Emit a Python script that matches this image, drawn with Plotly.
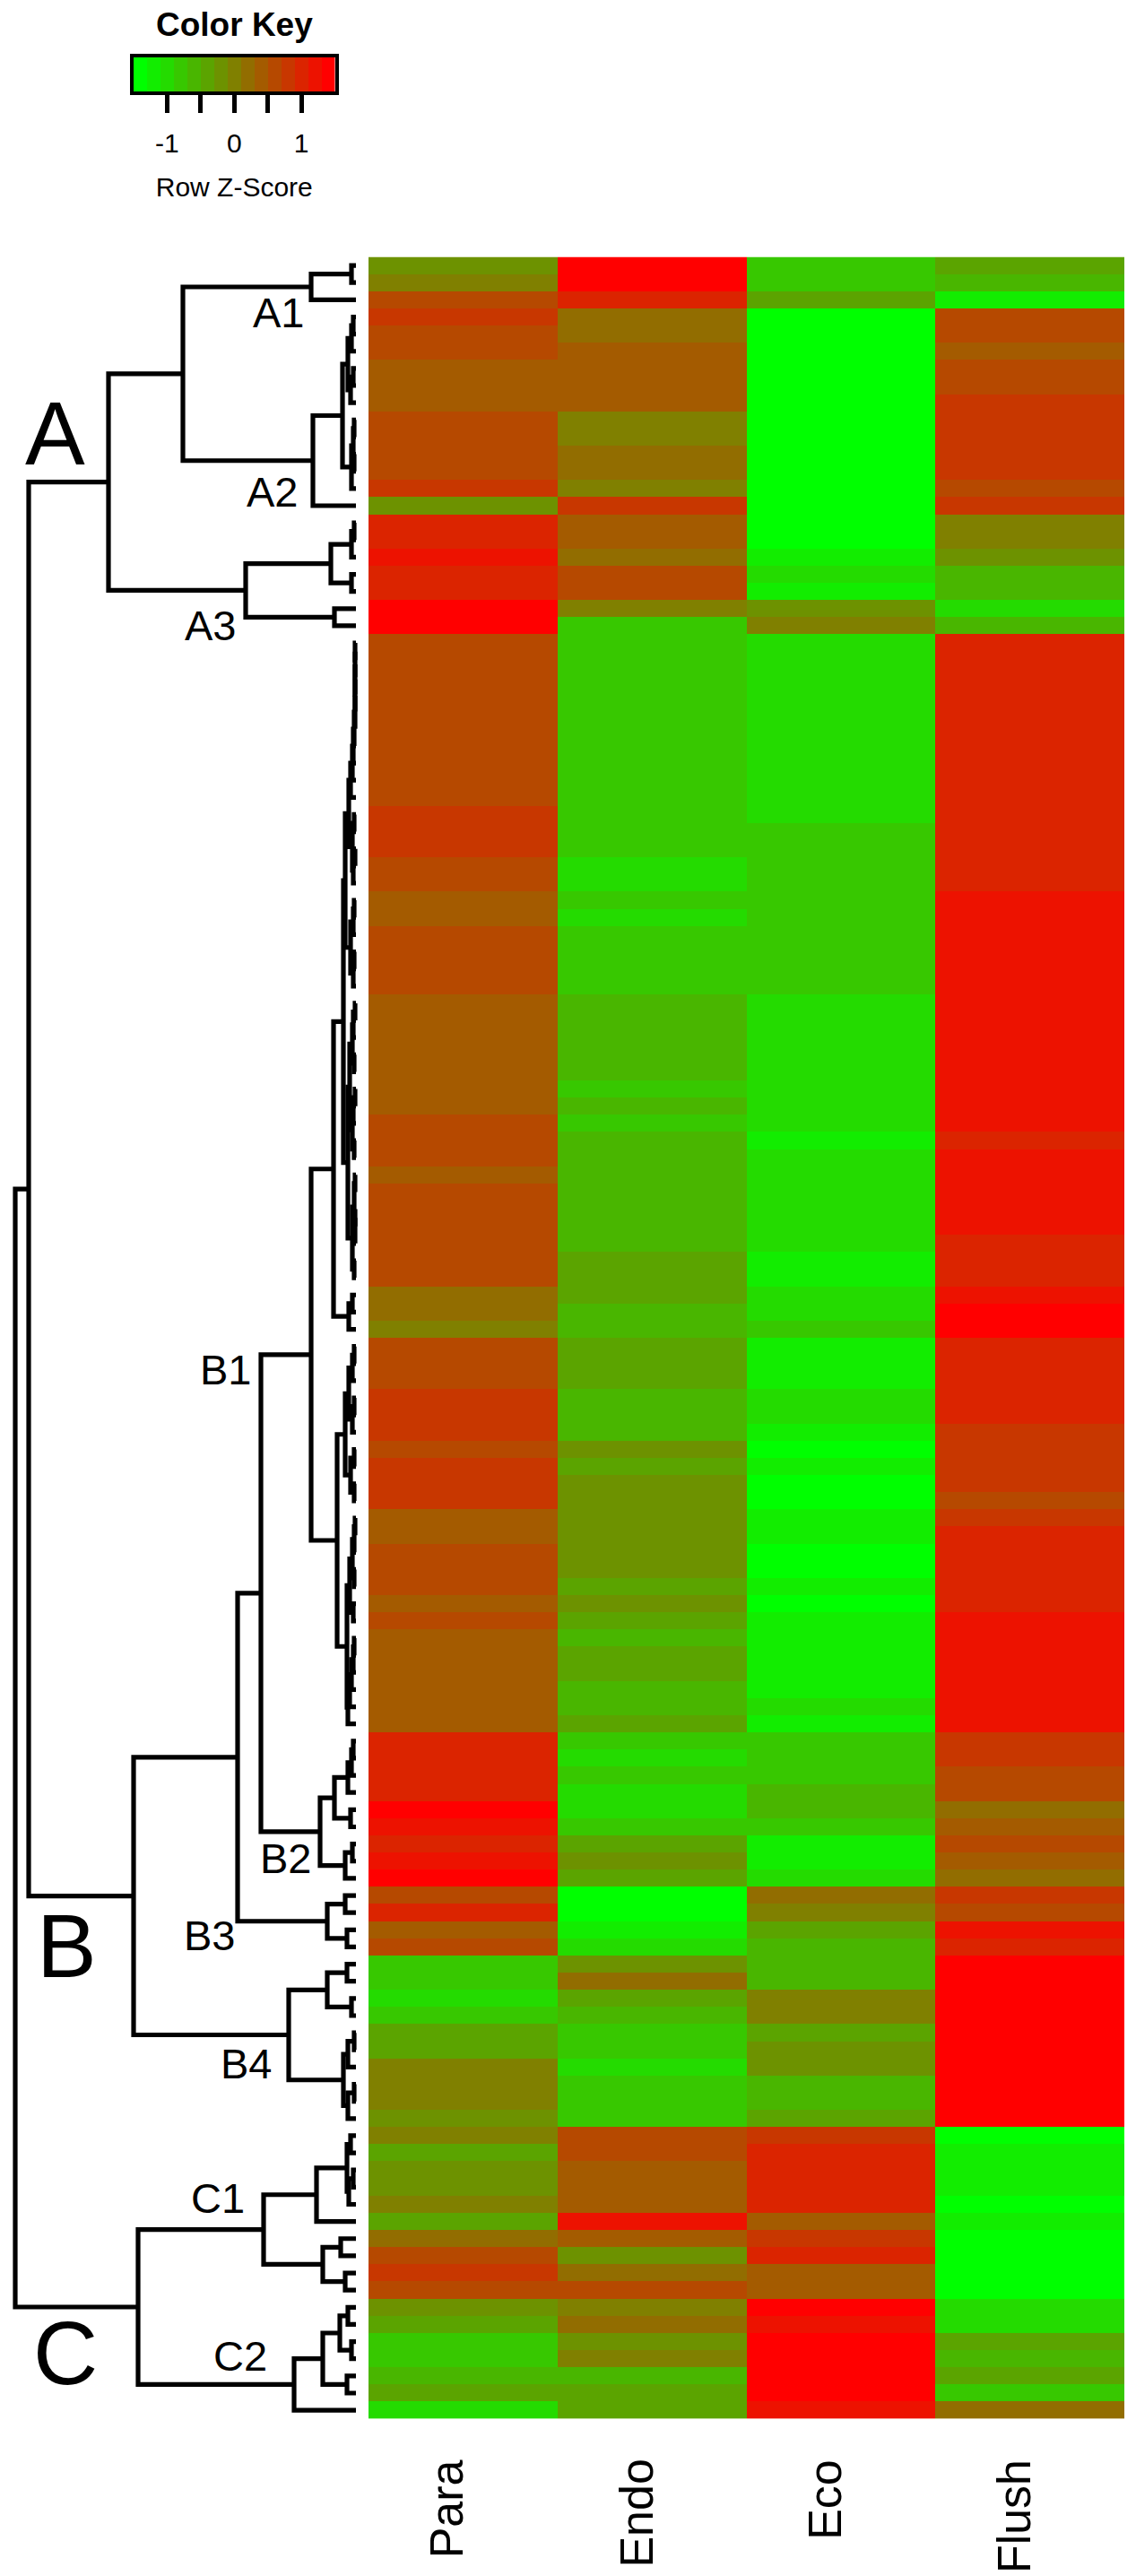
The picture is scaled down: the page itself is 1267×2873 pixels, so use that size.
import plotly.graph_objects as go

W, H = 1267, 2873
FONT = "Liberation Sans"

columns = ["Para", "Endo", "Eco", "Flush"]

# Row z-scores (row 0 is the top row)
para = [
    -0.2, 0.0, 0.6, 0.8, 0.6, 0.6, 0.4, 0.4, 0.4, 0.6,
    0.6, 0.6, 0.6, 0.8, -0.2, 1.0, 1.0, 1.2, 1.0, 1.0,
    1.4, 1.4, 0.6, 0.6, 0.6, 0.6, 0.6, 0.6, 0.6, 0.6,
    0.6, 0.6, 0.8, 0.8, 0.8, 0.6, 0.6, 0.4, 0.4, 0.6,
    0.6, 0.6, 0.6, 0.4, 0.4, 0.4, 0.4, 0.4, 0.4, 0.4,
    0.6, 0.6, 0.6, 0.4, 0.6, 0.6, 0.6, 0.6, 0.6, 0.6,
    0.2, 0.2, 0.0, 0.6, 0.6, 0.6, 0.8, 0.8, 0.8, 0.6,
    0.8, 0.8, 0.8, 0.4, 0.4, 0.6, 0.6, 0.6, 0.4, 0.6,
    0.4, 0.4, 0.4, 0.4, 0.4, 0.4, 1.0, 1.0, 1.0, 1.0,
    1.4, 1.2, 1.0, 1.2, 1.4, 0.6, 1.0, 0.4, 0.6, -0.8,
    -0.8, -1.0, -0.8, -0.4, -0.4, 0.0, 0.0, 0.0, -0.2, 0.0,
    -0.4, -0.2, -0.2, 0.0, -0.4, 0.2, 0.6, 0.8, 0.6, -0.2,
    -0.4, -0.8, -0.8, -0.6, -0.4, -1.0,
]
endo = [
    1.4, 1.4, 1.0, 0.2, 0.2, 0.4, 0.4, 0.4, 0.4, 0.0,
    0.0, 0.2, 0.2, 0.0, 0.8, 0.4, 0.4, 0.2, 0.6, 0.6,
    0.0, -0.8, -0.8, -0.8, -0.8, -0.8, -0.8, -0.8, -0.8, -0.8,
    -0.8, -0.8, -0.8, -0.8, -0.8, -1.0, -1.0, -0.8, -1.0, -0.8,
    -0.8, -0.8, -0.8, -0.6, -0.6, -0.6, -0.6, -0.6, -0.8, -0.6,
    -0.8, -0.6, -0.6, -0.6, -0.6, -0.6, -0.6, -0.6, -0.4, -0.4,
    -0.4, -0.6, -0.6, -0.4, -0.4, -0.4, -0.6, -0.6, -0.6, -0.2,
    -0.4, -0.2, -0.2, -0.2, -0.2, -0.2, -0.2, -0.4, -0.2, -0.4,
    -0.6, -0.4, -0.4, -0.6, -0.6, -0.4, -0.8, -1.0, -0.8, -1.0,
    -1.0, -0.8, -0.4, -0.2, -0.4, -1.4, -1.4, -1.2, -1.0, -0.2,
    0.2, -0.4, -0.6, -0.8, -0.8, -1.0, -0.8, -0.8, -0.8, 0.6,
    0.6, 0.4, 0.4, 0.4, 1.2, 0.4, -0.2, 0.2, 0.6, 0.0,
    0.2, -0.2, 0.0, -0.6, -0.4, -0.4,
]
eco = [
    -0.8, -0.8, -0.4, -1.4, -1.4, -1.4, -1.4, -1.4, -1.4, -1.4,
    -1.4, -1.4, -1.4, -1.4, -1.4, -1.4, -1.4, -1.2, -1.0, -1.2,
    -0.2, 0.0, -1.0, -1.0, -1.0, -1.0, -1.0, -1.0, -1.0, -1.0,
    -1.0, -1.0, -1.0, -0.8, -0.8, -0.8, -0.8, -0.8, -0.8, -0.8,
    -0.8, -0.8, -0.8, -1.0, -1.0, -1.0, -1.0, -1.0, -1.0, -1.0,
    -1.0, -1.2, -1.0, -1.0, -1.0, -1.0, -1.0, -1.0, -1.2, -1.2,
    -1.0, -1.0, -0.8, -1.2, -1.2, -1.2, -1.0, -1.0, -1.2, -1.4,
    -1.2, -1.4, -1.4, -1.2, -1.2, -1.4, -1.4, -1.2, -1.4, -1.2,
    -1.2, -1.2, -1.2, -1.2, -1.0, -1.2, -0.8, -0.8, -0.8, -0.6,
    -0.6, -0.8, -1.2, -1.2, -1.0, 0.2, 0.0, -0.4, -0.6, -0.6,
    -0.6, 0.0, 0.0, -0.4, -0.2, -0.2, -0.6, -0.6, -0.4, 0.8,
    1.0, 1.0, 1.0, 1.0, 0.4, 0.8, 1.0, 0.4, 0.4, 1.4,
    1.2, 1.4, 1.4, 1.4, 1.4, 1.2,
]
flush = [
    -0.4, -0.6, -1.2, 0.6, 0.6, 0.4, 0.6, 0.6, 0.8, 0.8,
    0.8, 0.8, 0.8, 0.6, 0.8, 0.0, 0.0, -0.2, -0.6, -0.6,
    -1.0, -0.6, 1.0, 1.0, 1.0, 1.0, 1.0, 1.0, 1.0, 1.0,
    1.0, 1.0, 1.0, 1.0, 1.0, 1.0, 1.0, 1.2, 1.2, 1.2,
    1.2, 1.2, 1.2, 1.2, 1.2, 1.2, 1.2, 1.2, 1.2, 1.2,
    1.2, 1.0, 1.2, 1.2, 1.2, 1.2, 1.2, 1.0, 1.0, 1.0,
    1.2, 1.4, 1.4, 1.0, 1.0, 1.0, 1.0, 1.0, 0.8, 0.8,
    0.8, 0.8, 0.6, 0.8, 1.0, 1.0, 1.0, 1.0, 1.0, 1.2,
    1.2, 1.2, 1.2, 1.2, 1.2, 1.2, 0.8, 0.8, 0.6, 0.6,
    0.2, 0.4, 0.6, 0.4, 0.2, 0.8, 0.6, 1.2, 1.0, 1.4,
    1.4, 1.4, 1.4, 1.4, 1.4, 1.4, 1.4, 1.4, 1.4, -1.4,
    -1.2, -1.2, -1.2, -1.4, -1.2, -1.4, -1.4, -1.4, -1.4, -1.0,
    -1.0, -0.4, -0.6, -0.4, -0.8, 0.2,
]
assert len(para) == len(endo) == len(eco) == len(flush) == 126

key_levels = [-1.4, -1.2, -1.0, -0.8, -0.6, -0.4, -0.2, 0.0,
              0.2, 0.4, 0.6, 0.8, 1.0, 1.2, 1.4]
key_ticks = [-1, -0.5, 0, 0.5, 1]
key_ticktext = ["-1", "", "0", "", "1"]

# Row dendrogram: (merge height, child, child); an int is a leaf row
A1 = (50, (5, 0, 1), 2)
A2 = (48, (15,
           (9, (5, (3, 3, 4), 5), (6, (3, 6, 7), 8)),
           (5, (3, (2, 9, 10), (2, 11, 12)), 13)),
      14)
A3 = (123, (28, (5, (2, 15, 16), 17), (5, 18, 19)), (24, 20, 21))
A = (276, (193, A1, A2), A3)

B1a = (8, (6, (4, (3, (2, (1, (1, (1, (1, (1, 22, 23), 24), 25), 26), 27), 28), 29), 30), 31),
       (4, (2, 32, 33), (3, (1, 34, 35), 36)))
B1b = (6, (3, (2, 37, 38), 39), (3, (2, 40, 41), 42))
B1c = (7, (4, (3, (1, 43, 44), 45), (2, 46, 47)), (4, (3, (1, 48, 49), 50), (2, 51, 52)))
B1d = (4, (2, (1, 53, 54), (1, (1, 55, 56), 57)), (2, 58, 59))
B1e = (8, (4, 60, 61), 62)
B1f = (8, (4, (2, 63, 64), 65), (4, (2, 66, 67), 68))
B1g = (6, (2, 69, 70), (2, 71, 72))
B1h = (7, (4, (2, (1, 73, 74), 75), (2, 76, 77)), (3, 78, 79))
B1i = (9, (7, (5, (3, (2, 80, 81), 82), 83), 84), 85)
B1 = (50,
      (25, (14, (12, B1a, B1b), (9, B1c, B1d)), B1e),
      (21, (12, B1f, B1g), (10, B1h, B1i)))
B2 = (40,
      (24, (9, (5, (3, 86, 87), 88), 89), (6, 90, 91)),
      (12, (4, 92, 93), 94))
B3 = (32, (12, 95, 96), (10, 97, 98))
B4 = (75,
      (32, (10, 99, 100), (5, 101, 102)),
      (14, (9, (2, 103, 104), 105), (9, (2, 106, 107), 108)))
B = (248, (132, (106, B1, B2), B3), B4)

C1 = (103,
      (44, (10, (6, 109, 110), (8, (3, 111, 112), 113)), 114),
      (37, (17, 115, 116), (12, 117, 118)))
C2 = (69,
      (37, (18, (9, 119, 120), (5, 121, 122)), (10, 123, 124)),
      125)
C = (243, C1, C2)
ROOT = (380, (365, A, B), C)


def walk(node, xs, ys):
    """Return (height, row) of a node, adding its bracket to xs, ys."""
    if isinstance(node, int):
        return 0, node
    h, a, b = node
    ha, ya = walk(a, xs, ys)
    hb, yb = walk(b, xs, ys)
    xs += [ha, h, h, hb, None]
    ys += [ya, ya, yb, yb, None]
    return h, (ya + yb) / 2


dx, dy = [], []
walk(ROOT, dx, dy)


def px(x):
    return x / W


def py(y):
    return 1 - y / H


colors = [[0, "#00FF00"], [1, "#FF0000"]]
rows = list(range(len(para)))
z = [[para[i], endo[i], eco[i], flush[i]] for i in rows]

fig = go.Figure()
fig.add_trace(go.Heatmap(
    z=z, x=columns, y=rows, zmin=-1.4, zmax=1.4, colorscale=colors,
    showscale=False, xgap=0, ygap=0, xaxis="x", yaxis="y"))
fig.add_trace(go.Scatter(
    x=dx, y=dy, mode="lines", line=dict(color="black", width=5.2),
    showlegend=False, xaxis="x2", yaxis="y2", connectgaps=False))
fig.add_trace(go.Heatmap(
    z=[key_levels], x=key_levels, y=["key"], zmin=-1.4, zmax=1.4,
    colorscale=colors, showscale=False, xaxis="x3", yaxis="y3"))

TOP, BOTTOM = 286.5, 2697.7
axis_off = dict(visible=False, showgrid=False, zeroline=False)
fig.update_layout(
    width=W, height=H, margin=dict(l=0, r=0, t=0, b=0),
    paper_bgcolor="white", plot_bgcolor="white", showlegend=False,
    font=dict(family=FONT, color="black"),
    xaxis=dict(domain=[px(411), px(1254)], type="category", **axis_off),
    yaxis=dict(domain=[py(BOTTOM), py(TOP)], range=[125.5, -0.5], **axis_off),
    xaxis2=dict(domain=[0, px(411)], range=[397, -14], anchor="y2", **axis_off),
    yaxis2=dict(domain=[py(BOTTOM), py(TOP)], range=[125.5, -0.5],
                anchor="x2", **axis_off),
    xaxis3=dict(
        domain=[px(149), px(373.5)], range=[-1.5, 1.5], anchor="y3",
        tickmode="array", tickvals=key_ticks, ticktext=key_ticktext,
        ticks="outside", ticklen=20, tickwidth=5, tickcolor="black",
        showline=True, linewidth=4, linecolor="black", mirror=True,
        showgrid=False, zeroline=False,
        tickfont=dict(size=30, family=FONT, color="black"),
        ticklabelstandoff=8,
        title=dict(text="Row Z-Score", font=dict(size=30, family=FONT, color="black"), standoff=24)),
    yaxis3=dict(
        domain=[py(102), py(64)], anchor="x3", showticklabels=False, ticks="",
        showline=True, linewidth=4, linecolor="black", mirror=True,
        showgrid=False, zeroline=False),
)

ann = []
ann.append(dict(x=px(261), y=py(28), text="<b>Color Key</b>", xref="paper", yref="paper",
                showarrow=False, font=dict(size=37, family=FONT, color="black"),
                xanchor="center", yanchor="middle"))

# Large cluster letters and sub-cluster labels: text, centre x px, centre y px, size
labels = [
    ("A", 61, 483, 100), ("B", 74, 2170, 100), ("C", 73, 2624, 100),
    ("A1", 311, 349, 47), ("A2", 304, 548, 47), ("A3", 235, 698, 47),
    ("B1", 252, 1527, 47), ("B2", 319, 2072, 47), ("B3", 234, 2158, 47),
    ("B4", 275, 2301, 47), ("C1", 243, 2451, 47), ("C2", 268, 2627, 47),
]
for t, x, y, s in labels:
    ann.append(dict(x=px(x), y=py(y), text=t, xref="paper", yref="paper",
                    showarrow=False, font=dict(size=s, family=FONT, color="black"),
                    xanchor="center", yanchor="middle"))

for c in columns:
    ann.append(dict(x=c, y=py(2741), text=c, xref="x", yref="paper", xshift=-18,
                    showarrow=False, textangle=-90,
                    font=dict(size=52, family=FONT, color="black"),
                    xanchor="center", yanchor="top"))
fig.update_layout(annotations=ann)

fig.write_html("out.html", post_script="document.body.style.margin='0';document.body.style.overflow='hidden';",
               config={"displayModeBar": False})
